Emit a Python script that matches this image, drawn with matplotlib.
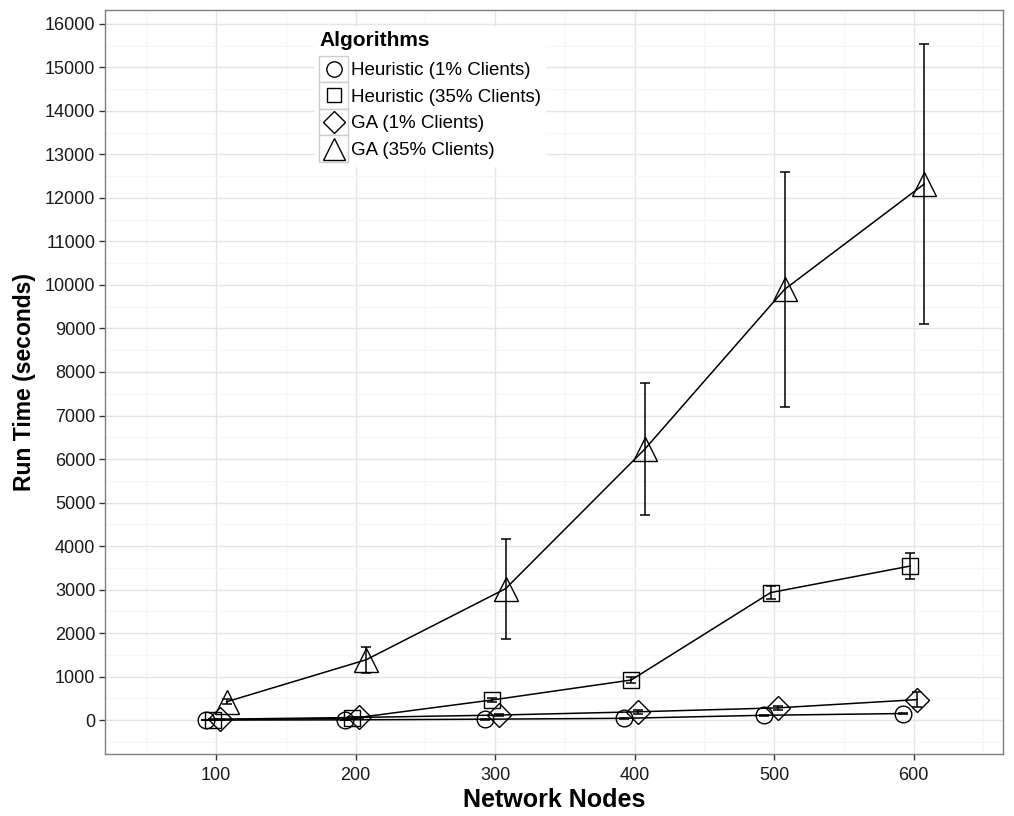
import matplotlib
matplotlib.use('Agg')
import matplotlib.pyplot as plt
from matplotlib.lines import Line2D
from matplotlib.patches import Rectangle
from matplotlib.legend_handler import HandlerBase
from matplotlib.ticker import MultipleLocator

plt.rcParams['font.family'] = ['Liberation Sans', 'DejaVu Sans']

nodes = [100, 200, 300, 400, 500, 600]

heur1 = [0, 5, 20, 40, 110, 150]
heur1_err = [5, 5, 10, 10, 15, 20]
heur35 = [10, 40, 460, 920, 2930, 3540]
heur35_err = [10, 20, 50, 60, 140, 300]
ga1 = [20, 60, 115, 190, 280, 470]
ga1_err = [10, 20, 30, 40, 50, 180]
ga35 = [420, 1385, 3020, 6235, 9900, 12320]
ga35_err = [60, 305, 1150, 1515, 2700, 3225]

labels = ['Heuristic (1% Clients)', 'Heuristic (35% Clients)',
          'GA (1% Clients)', 'GA (35% Clients)']
markers = ['o', 's', 'D', '^']
msizes = [12, 11, 12, 17]
dodge = [-7.5, -2.5, 2.5, 7.5]


class KeyBox(HandlerBase):
    # grey-bordered key box like ggplot's legend keys
    def create_artists(self, legend, orig_handle, xdescent, ydescent,
                       width, height, fontsize, trans):
        box = Rectangle((-xdescent, -ydescent), width, height, facecolor='white',
                        edgecolor='#cccccc', lw=1.0, transform=trans)
        m = Line2D([width / 2 - xdescent], [height / 2 - ydescent],
                   marker=orig_handle.get_marker(),
                   markersize=orig_handle.get_markersize() * 0.92,
                   mfc='none', mec='black', mew=1.0, ls='none', transform=trans)
        return [box, m]


fig = plt.figure(figsize=(10.14, 8.16), dpi=100)
ax = fig.add_axes([105 / 1014, 1 - 754 / 816, (1003 - 105) / 1014, (754 - 10) / 816])

series = [(heur1, heur1_err), (heur35, heur35_err), (ga1, ga1_err), (ga35, ga35_err)]
handles = []
for i, (vals, errs) in enumerate(series):
    xs = [n + dodge[i] for n in nodes]
    ax.errorbar(xs, vals, yerr=errs, fmt='none', ecolor='black', elinewidth=1.1,
                capsize=3.5, capthick=1.1, zorder=3)
    ln, = ax.plot(xs, vals, color='black', lw=1.1, marker=markers[i],
                  markersize=msizes[i], mfc='none', mec='black', mew=1.0, zorder=4)
    handles.append(ln)

ax.set_xlim(20.4, 664)
ax.set_ylim(-780, 16320)
ax.xaxis.set_major_locator(MultipleLocator(100))
ax.xaxis.set_minor_locator(MultipleLocator(50))
ax.yaxis.set_major_locator(MultipleLocator(1000))
ax.yaxis.set_minor_locator(MultipleLocator(500))
ax.grid(which='major', color='#e5e5e5', lw=1.0)
ax.grid(which='minor', color='#f5f5f5', lw=0.8)
ax.set_axisbelow(True)
for s in ax.spines.values():
    s.set_color('#7f7f7f')
    s.set_linewidth(1.0)
ax.tick_params(which='major', length=4, width=1, color='#333333',
               labelsize=13, labelcolor='#1a1a1a')
ax.tick_params(axis='x', pad=5)
ax.tick_params(axis='y', pad=3)
ax.tick_params(which='minor', length=0)

ax.set_xticks(nodes)
ax.set_xlabel('Network Nodes', fontsize=18, fontweight='bold', labelpad=3)
ax.set_ylabel('Run Time (seconds)', fontsize=16.5, fontweight='bold', labelpad=6)

leg = ax.legend(handles, labels, title='Algorithms', loc='upper left',
                bbox_to_anchor=(306 / 1014, 1 - 18 / 816),
                bbox_transform=fig.transFigure,
                handler_map={Line2D: KeyBox()}, fontsize=13.5,
                title_fontproperties={'weight': 'bold', 'size': 15},
                handlelength=1.55, handleheight=1.8, labelspacing=0.0,
                handletextpad=0.15, borderpad=0.2, frameon=True,
                fancybox=False, edgecolor='white', framealpha=1.0)
leg._legend_box.align = 'left'
leg._legend_box.sep = 4

fig.savefig('out.png', dpi=100)
